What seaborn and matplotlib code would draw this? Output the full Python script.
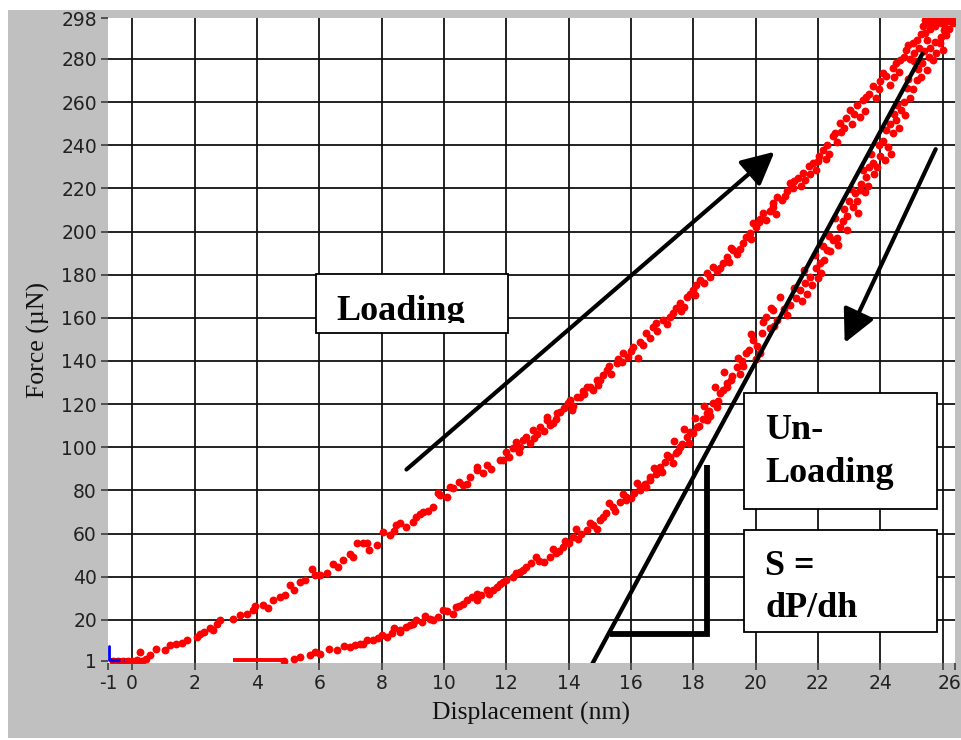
import numpy as np
import pandas as pd
import matplotlib
matplotlib.use("Agg")
import matplotlib.pyplot as plt
from matplotlib.patches import Rectangle
from matplotlib.transforms import Bbox, TransformedBbox, ScaledTranslation
import seaborn as sns

# ---------------- data ----------------
load_x = [-0.6, -0.45, -0.3, -0.15, 0.0, 0.15, 0.3, 0.45, 0.25, 0.56,
          0.78, 1.05, 1.21, 1.42, 1.6, 1.75, 2.07, 2.17, 2.3, 2.49,
          2.6, 2.71, 2.81, 3.24, 3.46, 3.67, 3.88, 3.95, 4.2, 4.35,
          4.52, 4.74, 4.9, 5.06, 5.2, 5.38, 5.55, 5.76, 5.85, 6.02,
          6.24, 6.45, 6.6, 6.77, 6.98, 7.1, 7.2, 7.41, 7.52, 7.6,
          7.84, 8.05, 8.27, 8.4, 8.48, 8.59, 8.8, 9.0, 9.12, 9.23,
          9.34, 9.5, 9.66, 9.82, 9.87, 10.09, 10.2, 10.3, 10.5, 10.6,
          10.73, 10.83, 11.05, 11.05, 11.26, 11.37, 11.5, 11.8, 11.9, 12.0,
          12.1, 12.22, 12.33, 12.45, 12.54, 12.65, 12.75, 12.87, 13.0, 13.1,
          13.3, 13.3, 13.4, 13.51, 13.62, 13.72, 13.85, 13.99, 14.04, 14.15,
          14.26, 14.36, 14.45, 14.58, 14.68, 14.8, 14.9, 15.0, 15.1, 15.22,
          15.35, 15.54, 15.6, 15.75, 15.9, 16.07, 16.23, 16.3, 16.5, 16.6,
          16.72, 16.85, 17.04, 17.15, 17.36, 17.45, 17.57, 17.7, 17.79, 17.9,
          18.0, 18.1, 18.21, 18.35, 18.53, 18.64, 18.75, 18.96, 19.07, 19.15,
          19.28, 19.4, 19.6, 19.71, 19.82, 19.92, 20.03, 20.15, 20.24, 20.35,
          20.57, 20.57, 20.7, 20.85, 21.0, 21.1, 21.2, 21.35, 21.53, 21.6,
          21.7, 21.85, 21.95, 22.05, 22.17, 22.3, 22.35, 22.49, 22.6, 22.7,
          22.75, 22.9, 23.03, 23.1, 23.25, 23.45, 23.5, 23.65, 23.77, 23.85,
          24.0, 24.2, 24.3, 24.4, 24.52, 24.6, 24.75, 24.84, 24.95, 25.05,
          25.17, 25.25, 25.38, 25.45, 25.55, 25.7, 25.8, 25.9, 26.0, 26.1,
          26.2, 26.3, 25.6, 25.75]
load_f = [1, 1, 1, 1, 1, 1.5, 1, 2, 5.1, 3.6,
          6.7, 5.9, 8.2, 9.0, 9.5, 10.5, 12.1, 13.6, 14.5, 16.0,
          15.2, 18.3, 19.8, 20.6, 22.1, 22.9, 24.5, 26.5, 26.8, 25.5,
          29.1, 30.6, 31.5, 36.1, 34.0, 37.6, 38.5, 43.8, 41.0, 40.7,
          41.5, 46.1, 44.5, 47.7, 50.6, 49.0, 55.4, 55.4, 55.4, 52.5,
          54.6, 60.8, 59.3, 61.0, 63.9, 64.7, 63.1, 65.5, 67.8, 69.3,
          70.1, 70.5, 72.4, 78.6, 77.8, 77.0, 81.7, 81.0, 84.0, 82.5,
          83.2, 86.3, 89.4, 91.0, 87.9, 91.7, 90.0, 94.1, 94.1, 97.9,
          95.5, 99.5, 102.5, 100.0, 103.4, 104.9, 102.0, 108.0, 106.0, 109.5,
          112.6, 114.2, 110.5, 111.1, 115.7, 116.5, 118.0, 120.4, 121.9, 119.0,
          123.4, 123.4, 126.0, 128.1, 128.1, 126.5, 131.2, 131.2, 133.5, 135.8,
          134.0, 138.9, 141.0, 143.6, 142.0, 146.6, 141.3, 149.0, 152.9, 150.5,
          155.9, 154.0, 159.0, 157.0, 162.1, 164.5, 166.8, 165.0, 169.8, 171.0,
          172.9, 175.0, 177.6, 176.0, 179.1, 183.8, 181.5, 185.3, 188.4, 186.0,
          191.5, 189.5, 194.6, 197.7, 199.3, 203.9, 202.3, 206.0, 208.5, 205.5,
          211.6, 213.2, 216.0, 214.5, 219.0, 222.5, 220.0, 225.0, 227.1, 224.0,
          230.5, 231.7, 228.5, 235.0, 237.9, 240.0, 236.0, 244.1, 241.5, 250.3,
          246.0, 252.5, 256.5, 250.0, 258.5, 261.1, 256.0, 264.0, 267.3, 262.0,
          270.0, 271.9, 268.0, 276.0, 278.1, 274.0, 281.0, 284.3, 280.0, 287.5,
          289.0, 285.0, 295.1, 292.0, 296.5, 298.2, 298.2, 298.2, 298.2, 298.2,
          298.2, 298.2, 294.0, 295.5]
# further loading dots seen on the other edge of the band
load_x_b = [12.4, 12.9, 13.2, 13.6, 14.1, 14.5, 14.95, 15.3, 15.7, 16.0,
            16.4, 16.8, 17.25, 17.6, 18.05, 18.45, 18.85, 19.2, 19.5, 19.85,
            20.1, 20.45, 20.65, 20.95, 21.25, 21.45, 21.75, 22.0, 22.25, 22.55,
            22.85, 23.15, 23.35, 23.55, 23.95, 24.1, 24.45, 24.65, 24.9, 25.1,
            25.3, 25.5, 25.65, 25.95, 25.45, 25.55, 26.35, 26.05]
load_f_b = [98.0, 104.5, 107.5, 113.0, 117.5, 124.5, 129.0, 137.5, 139.5, 144.5,
            147.5, 157.5, 160.5, 163.0, 170.5, 181.0, 183.0, 192.5, 192.0, 196.5,
            204.5, 209.5, 208.0, 216.5, 223.5, 221.0, 226.5, 232.5, 233.5, 245.5,
            248.0, 254.5, 253.0, 262.5, 266.0, 273.5, 271.5, 279.5, 286.5, 283.0,
            291.5, 289.0, 297.0, 296.5, 298.0, 298.2, 298.2, 296.0]

unload_x = [26.34, 26.2, 26.1, 25.91, 26.0, 25.8, 25.7, 25.6, 25.49, 25.35,
            25.3, 25.17, 25.05, 24.95, 24.85, 24.68, 24.75, 24.52, 24.6, 24.42,
            24.3, 24.26, 24.35, 24.1, 24.0, 23.9, 23.77, 23.7, 23.56, 23.6,
            23.45, 23.35, 23.25, 23.13, 23.2, 23.0, 22.92, 22.95, 22.8, 22.7,
            22.6, 22.49, 22.4, 22.28, 22.2, 22.06, 22.1, 21.95, 21.74, 21.8,
            21.6, 21.42, 21.5, 21.3, 21.1, 20.9, 20.57, 20.7, 20.35, 20.45,
            20.2, 19.92, 20.14, 20.05, 19.8, 19.71, 19.55, 19.39, 19.5, 19.25,
            19.07, 19.1, 18.95, 18.85, 18.75, 18.64, 18.5, 18.43, 18.43, 18.3,
            18.11, 18.0, 17.9, 17.79, 17.65, 17.57, 17.45, 17.25, 17.35, 17.1,
            16.93, 16.93, 16.8, 16.61, 16.61, 16.45, 16.29, 16.29, 16.1, 15.86,
            15.86, 15.65, 15.43, 15.2, 15.0, 14.8, 14.58, 14.4, 14.15, 14.0,
            13.83, 13.6, 13.4, 12.97, 13.2, 12.8, 12.65, 12.45, 12.22, 12.0,
            11.8, 11.58, 11.37, 11.2, 11.05, 11.05, 10.73, 10.5, 10.3, 9.98,
            9.8, 9.66, 9.55, 9.12, 9.02, 8.8, 8.59, 8.59, 8.16, 8.0,
            7.73, 7.41, 7.3, 6.98, 6.8, 6.56, 6.3, 6.02, 5.85, 5.7,
            5.38, 5.2, 4.88]
unload_f = [296.6, 294.0, 291.0, 287.4, 284.0, 283.0, 279.7, 285.0, 275.0, 278.0,
            271.5, 270.4, 266.0, 262.0, 266.5, 256.5, 260.0, 251.8, 248.0, 245.7,
            250.0, 239.4, 236.0, 242.0, 235.0, 230.0, 231.7, 236.0, 225.5, 221.0,
            228.5, 219.4, 214.0, 211.6, 218.0, 214.0, 207.0, 200.5, 205.0, 202.3,
            197.0, 196.1, 191.0, 191.5, 187.0, 185.3, 181.0, 183.0, 179.1, 175.0,
            176.0, 172.9, 168.0, 169.0, 166.0, 164.0, 163.6, 159.0, 160.6, 155.5,
            153.0, 149.7, 143.6, 147.0, 145.0, 143.6, 140.0, 137.4, 134.0, 133.0,
            129.6, 128.1, 126.5, 125.0, 118.8, 120.4, 117.0, 115.7, 112.6, 113.0,
            109.5, 106.4, 107.0, 104.9, 101.5, 100.2, 97.5, 95.6, 92.5, 93.0,
            91.0, 89.4, 87.5, 86.3, 84.8, 83.0, 81.7, 80.1, 79.0, 77.0,
            75.5, 74.5, 72.4, 69.5, 66.2, 64.0, 61.6, 60.0, 58.5, 55.5,
            53.8, 51.0, 49.2, 49.2, 47.0, 46.5, 44.5, 42.0, 39.9, 38.5,
            36.8, 33.7, 33.7, 31.5, 32.2, 29.1, 29.1, 26.5, 22.9, 24.5,
            21.5, 19.8, 20.6, 19.8, 18.3, 16.5, 15.2, 14.4, 12.1, 13.0,
            10.5, 9.0, 9.0, 7.4, 8.0, 5.9, 6.5, 4.4, 5.0, 3.6,
            2.8, 2.0, 1.0]
# further unloading dots seen on the other edge of the band
unload_x_b = [26.25, 26.05, 25.95, 25.75, 25.55, 25.4, 25.2, 25.1, 24.9, 24.8,
              24.55, 24.45, 24.2, 24.15, 23.95, 23.8, 23.65, 23.5, 23.4, 23.3,
              23.05, 22.85, 22.65, 22.55, 22.35, 22.15, 22.0, 21.9, 21.65, 21.55,
              21.25, 21.0, 20.8, 20.6, 20.5, 20.25, 20.0, 19.85, 19.6, 19.45,
              19.2, 19.0, 18.8, 18.7, 18.55, 18.35, 18.2, 18.05, 17.85, 17.7,
              17.5, 17.4, 17.15, 17.0, 16.75, 16.5, 16.2, 16.0, 15.75, 15.5,
              15.3, 15.1, 14.9, 14.7, 14.3, 14.25, 13.9, 13.7, 13.5, 13.05,
              12.55, 12.3, 11.9, 11.7, 11.45, 10.9, 10.6, 10.4, 10.1, 9.3,
              9.4, 8.9, 8.35, 8.4, 7.9, 7.55, 7.15]
unload_f_b = [297.5, 293.5, 290.0, 288.0, 281.0, 283.5, 275.5, 279.0, 270.5, 254.0,
              258.5, 254.5, 247.0, 233.0, 240.0, 226.5, 230.0, 218.5, 222.0, 208.5,
              219.5, 210.5, 194.0, 206.5, 198.0, 193.5, 178.5, 189.0, 171.0, 182.0,
              174.0, 161.5, 169.5, 156.0, 164.5, 158.0, 141.0, 152.5, 137.5, 141.5,
              131.0, 135.0, 121.5, 128.0, 114.5, 119.0, 110.0, 113.5, 102.0, 108.5,
              98.5, 103.0, 96.5, 88.5, 90.5, 81.5, 83.5, 76.5, 78.5, 70.5,
              74.0, 67.5, 62.0, 65.0, 57.5, 62.0, 56.5, 52.0, 53.0, 47.5,
              43.0, 41.5, 37.5, 35.0, 32.0, 30.5, 27.5, 26.0, 24.0, 19.0,
              22.0, 17.5, 14.0, 16.0, 11.5, 10.5, 8.5]

# flat red baseline segments (contact / hold at ~1 uN)
flat1_x = [-0.7, 0.45]
flat2_x = [3.24, 4.84]
flat_f = [1.3, 1.3]
# blue marker at origin
blue_vx = [-0.74, -0.74]
blue_vf = [1.2, 8.0]
blue_hx = [-0.7, -0.27]
blue_hf = [1.6, 1.6]

# annotations (data units)
load_arrow = [(8.8, 89.7), (20.61, 237.0)]       # tail, head
unload_arrow = [(25.78, 238.2), (22.86, 148.4)]  # tail, head
tangent_x = [14.74, 25.38]
tangent_f = [-1.0, 283.1]
tri_x = [15.33, 18.43, 18.43]
tri_f = [13.3, 13.3, 91.7]

x_ticks = list(range(0, 27, 2))
x_labels = [str(v) for v in range(0, 25, 2)] + [""]
y_ticks = list(range(20, 281, 20))
x_lim = (-0.776, 26.40)
y_lim = (0.0, 299.0)

# ---------------- figure ----------------
sns.set_theme(style="white")
plt.rcParams["font.family"] = ["DejaVu Sans"]

fig = plt.figure(figsize=(9.62, 7.40), dpi=100, facecolor="white")
fig.patches.append(Rectangle((8 / 962, 2 / 740), 954 / 962, 728 / 740,
                             transform=fig.transFigure, facecolor="#c0c0c0",
                             edgecolor="none", zorder=-10))
ax = fig.add_axes([108 / 962, 77 / 740, 847 / 962, 645 / 740])
ax.set_facecolor("white")
for s in ax.spines.values():
    s.set_visible(False)

df_load = pd.DataFrame({"x": load_x + load_x_b, "f": load_f + load_f_b})
df_unload = pd.DataFrame({"x": unload_x + unload_x_b, "f": unload_f + unload_f_b})
sns.scatterplot(data=df_load, x="x", y="f", ax=ax, color="#ff0000", s=32,
                linewidth=0, zorder=3)
sns.scatterplot(data=df_unload, x="x", y="f", ax=ax, color="#ff0000", s=32,
                linewidth=0, zorder=3)
ax.plot(flat1_x, flat_f, color="#ff0000", lw=2.8, zorder=3, solid_capstyle="butt")
ax.plot(flat2_x, flat_f, color="#ff0000", lw=2.8, zorder=3, solid_capstyle="butt")
ax.plot(blue_vx, blue_vf, color="#0000ff", lw=2.0, zorder=4)
ax.plot(blue_hx, blue_hf, color="#0000ff", lw=2.4, ls=(0, (3, 1)), zorder=4)

ax.set_xlim(*x_lim)
ax.set_ylim(*y_lim)

ax.set_xticks(x_ticks, labels=x_labels)
ax.set_xticks([x_lim[0], x_lim[1]], labels=["-1", "26"], minor=True)
ax.set_yticks(y_ticks)
ax.set_yticks([1, y_lim[1]], labels=["1", "298"], minor=True)
ax.grid(which="major", color="#111111", linewidth=1.3)
ax.grid(which="minor", visible=False)
ax.set_axisbelow(True)
ax.tick_params(which="both", direction="out", length=5, width=1.1,
               color="#333333", labelcolor="#222222", labelsize=13.5, pad=3,
               bottom=True, left=True)
# keep the right-edge "26" label inside the figure
lab26 = ax.get_xticklabels(minor=True)[1]
lab26.set_transform(lab26.get_transform() +
                    ScaledTranslation(-5 / 100, 0, fig.dpi_scale_trans))

ax.set_xlabel("Displacement (nm)", fontfamily="Liberation Serif", fontsize=18.5,
              color="#111111", labelpad=6)
ax.set_ylabel("Force (\u00b5N)", fontfamily="Liberation Serif", fontsize=18.5,
              color="#111111", labelpad=8)

# arrows and lines
arrow_style = "-|>,head_length=1.0,head_width=0.5"
for tail, head in (load_arrow, unload_arrow):
    ax.annotate("", xy=head, xytext=tail, xycoords="data", textcoords="data",
                arrowprops=dict(arrowstyle=arrow_style, color="black", lw=3,
                                mutation_scale=20, shrinkA=0, shrinkB=0),
                zorder=5)
ax.plot(tangent_x, tangent_f, color="black", lw=3.1, zorder=5,
        solid_capstyle="butt")
ax.plot(tri_x, tri_f, color="black", lw=4.2, zorder=5, solid_joinstyle="miter",
        solid_capstyle="butt")

# text boxes (axes fraction)
def box(x0, y0, x1, y1):
    ax.add_patch(Rectangle((x0, y0), x1 - x0, y1 - y0, transform=ax.transAxes,
                           facecolor="white", edgecolor="black", lw=1.3,
                           zorder=6))

tkw = dict(transform=ax.transAxes, fontfamily="Liberation Serif",
           fontweight="bold", fontsize=26, color="black", ha="left",
           va="baseline", zorder=7)

box(0.2456, 0.5112, 0.4726, 0.6026)
t = ax.text(0.270, 0.5318, "Loading", **tkw)
t.set_clip_box(TransformedBbox(Bbox([[0.2456, 0.527], [0.4726, 0.6026]]),
                               ax.transAxes))
t.set_clip_on(True)

box(0.7509, 0.2388, 0.9791, 0.4181)
ax.text(0.7757, 0.3468, "Un-", **tkw)
ax.text(0.7757, 0.2811, "Loading", **tkw)

box(0.7509, 0.0476, 0.9791, 0.2062)
ax.text(0.7757, 0.1364, "S =", **tkw)
ax.text(0.7757, 0.0709, "dP/dh", **tkw)

fig.savefig("out.png", dpi=100, facecolor=fig.get_facecolor())
